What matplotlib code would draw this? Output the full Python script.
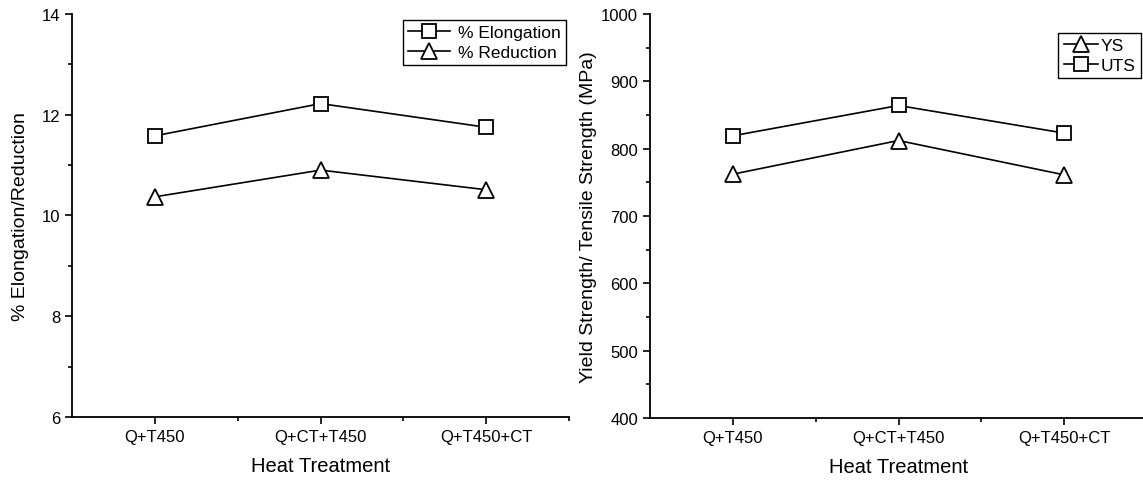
import matplotlib
matplotlib.use('Agg')
import matplotlib.pyplot as plt
from matplotlib.ticker import MultipleLocator, FixedLocator

plt.rcParams['font.family'] = ['Liberation Sans', 'DejaVu Sans']

treatments = ['Q+T450', 'Q+CT+T450', 'Q+T450+CT']
elongation = [11.58, 12.22, 11.75]
reduction = [10.37, 10.90, 10.51]
ys = [762, 812, 761]
uts = [819, 864, 823]

x = [1, 2, 3]

fig = plt.figure(figsize=(11.43, 4.81), dpi=100)
ax1 = fig.add_axes([0.063, 0.131, 0.435, 0.838])
ax2 = fig.add_axes([0.5687, 0.129, 0.4348, 0.840])

mk = dict(color='black', lw=1.2, mfc='white', mec='black', mew=1.3)

ax1.plot(x, elongation, marker='s', ms=9.5, label='% Elongation', **mk)
ax1.plot(x, reduction, marker='^', ms=11.5, label='% Reduction', **mk)
ax2.plot(x, ys, marker='^', ms=11.5, label='YS', **mk)
ax2.plot(x, uts, marker='s', ms=9.5, label='UTS', **mk)

for ax in (ax1, ax2):
    ax.set_xlim(0.5, 3.5)
    ax.set_xticks(x)
    ax.set_xticklabels(treatments)
    ax.xaxis.set_minor_locator(FixedLocator([1.5, 2.5, 3.5]))
    ax.spines['top'].set_visible(False)
    ax.spines['right'].set_visible(False)
    ax.spines['left'].set_linewidth(1.3)
    ax.spines['bottom'].set_linewidth(1.3)
    ax.tick_params(which='major', direction='out', length=5, width=1.2, labelsize=12)
    ax.tick_params(which='minor', direction='out', length=3, width=1.2)
    ax.set_xlabel('Heat Treatment', fontsize=14.5, labelpad=9)

ax1.set_ylim(6, 14)
ax1.yaxis.set_major_locator(MultipleLocator(2))
ax1.yaxis.set_minor_locator(MultipleLocator(1))
ax1.set_ylabel('% Elongation/Reduction', fontsize=14, labelpad=9)

ax2.set_ylim(400, 1000)
ax2.yaxis.set_major_locator(MultipleLocator(100))
ax2.yaxis.set_minor_locator(MultipleLocator(50))
ax2.set_ylabel('Yield Strength/ Tensile Strength (MPa)', fontsize=14, labelpad=3)

leg_kw = dict(loc='upper right', fancybox=False, edgecolor='black', framealpha=1,
              fontsize=12.5, borderpad=0.3, labelspacing=0.25, borderaxespad=0)
l1 = ax1.legend(bbox_to_anchor=(0.994, 0.985), handlelength=2.4, handletextpad=0.5, **leg_kw)
l2 = ax2.legend(bbox_to_anchor=(0.988, 0.953), handlelength=2.0, handletextpad=0.15, **leg_kw)
for l in (l1, l2):
    l.get_frame().set_linewidth(1.0)

fig.savefig('out.png', dpi=100)
